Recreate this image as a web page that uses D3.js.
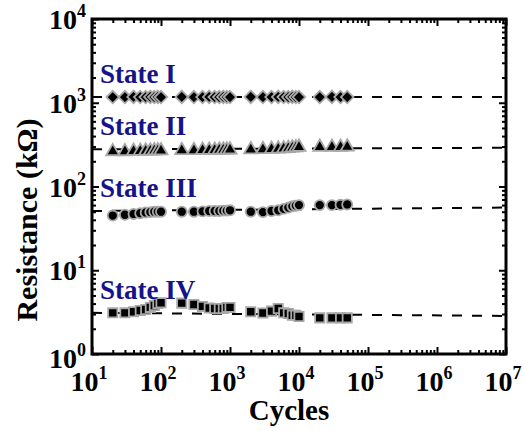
<!DOCTYPE html>
<html>
<head>
<meta charset="utf-8">
<script src="https://cdn.jsdelivr.net/npm/d3@7"></script>
<style>
  body { margin: 0; background: #fff; }
  svg { display: block; font-family: "Liberation Serif", "Times New Roman", serif; font-weight: bold; }
  .tick line { stroke: #000; stroke-width: 2px; }
  .domain { display: none; }
</style>
</head>
<body>
<svg width="524" height="431"></svg>
<script>
// cycle counts where each state was read
var cycles = [20, 30, 40, 50, 60, 70, 80, 90, 100,
              200, 300, 400, 500, 600, 700, 800, 900, 1000,
              2000, 3000, 4000, 5000, 6000, 7000, 8000, 9000, 10000,
              20000, 30000, 40000, 50000];

// resistance (kOhm) per state
var stateI = [1170, 1170, 1175, 1170, 1170, 1175, 1170, 1175, 1170,
              1175, 1170, 1170, 1175, 1170, 1170, 1175, 1170, 1170,
              1175, 1170, 1170, 1175, 1170, 1170, 1175, 1170, 1170,
              1170, 1175, 1170, 1170];
var stateII = [262, 262, 265, 265, 266, 266, 268, 268, 268,
               270, 270, 272, 272, 272, 274, 274, 274, 275,
               276, 278, 280, 282, 284, 286, 290, 292, 295,
               295, 296, 296, 297];
var stateIII = [45, 46, 47, 48, 49, 49.5, 50, 50, 50,
                50, 50, 50.5, 51, 51, 51, 51.5, 51.5, 52,
                50, 49.5, 51, 52, 54, 56, 58, 59, 60,
                60, 60, 60.5, 61];
var stateIV = [3.1, 3.1, 3.2, 3.3, 3.4, 3.6, 3.8, 4.0, 4.1,
               4.05, 3.9, 3.7, 3.55, 3.5, 3.5, 3.5, 3.6, 3.6,
               3.2, 3.08, 3.25, 3.5, 3.1, 3.05, 2.9, 2.9, 2.8,
               2.7, 2.7, 2.7, 2.7];

// dashed fit lines, value at the left and right edge
var fitI = [1170, 1170];
var fitII = [278, 290];
var fitIII = [51, 56];
var fitIV = [3.1, 2.85];

var stateNames = ["State I", "State II", "State III", "State IV"];
var xTickExp = [1, 2, 3, 4, 5, 6, 7];
var yTickExp = [0, 1, 2, 3, 4];

var svg = d3.select("svg"),
    margin = {top: 19, right: 18, bottom: 77, left: 92},
    width = +svg.attr("width") - margin.left - margin.right,
    height = +svg.attr("height") - margin.top - margin.bottom;

var x = d3.scaleLog().domain([1e1, 1e7]).range([0, width]);
var y = d3.scaleLog().domain([1e0, 1e4]).range([height, 0]);

var chart = svg.append("g")
    .attr("transform", "translate(" + margin.left + "," + margin.top + ")");

// minor and major ticks, all pointing inward
function isMajor(v) { return Math.abs(Math.log10(v) - Math.round(Math.log10(v))) < 1e-9; }
var xMinor = x.ticks(10).filter(function(v) { return !isMajor(v); }),
    xMajor = x.ticks(10).filter(isMajor),
    yMinor = y.ticks(10).filter(function(v) { return !isMajor(v); }),
    yMajor = y.ticks(10).filter(isMajor);

function addTicks(axis, vals, size, transform) {
  chart.append("g")
      .attr("transform", transform)
    .call(axis.tickValues(vals).tickSize(size).tickFormat(""));
}
addTicks(d3.axisBottom(x), xMinor, -4, "translate(0," + height + ")");
addTicks(d3.axisBottom(x), xMajor, -7, "translate(0," + height + ")");
addTicks(d3.axisTop(x), xMinor, -4, "translate(0,0)");
addTicks(d3.axisTop(x), xMajor, -7, "translate(0,0)");
addTicks(d3.axisLeft(y), yMinor, -4, "translate(0,0)");
addTicks(d3.axisLeft(y), yMajor, -7, "translate(0,0)");
addTicks(d3.axisRight(y), yMinor, -4, "translate(" + width + ",0)");
addTicks(d3.axisRight(y), yMajor, -7, "translate(" + width + ",0)");

// series
var series = [
  {name: stateNames[0], vals: stateI, fit: fitI, shape: d3.symbolDiamond2, size: 100},
  {name: stateNames[1], vals: stateII, fit: fitII, shape: d3.symbolTriangle, size: 75},
  {name: stateNames[2], vals: stateIII, fit: fitIII, shape: d3.symbolCircle, size: 80},
  {name: stateNames[3], vals: stateIV, fit: fitIV, shape: d3.symbolSquare, size: 85}
];

series.forEach(function(s) {
  // dashed line across the plot
  chart.append("line")
      .attr("x1", 0)
      .attr("x2", width)
      .attr("y1", y(s.fit[0]))
      .attr("y2", y(s.fit[1]))
      .attr("stroke", "#000")
      .attr("stroke-width", 2)
      .attr("stroke-dasharray", "10,10");

  chart.append("g").selectAll("path")
      .data(cycles)
    .enter().append("path")
      .attr("transform", function(d, i) { return "translate(" + x(d) + "," + y(s.vals[i]) + ")"; })
      .attr("d", d3.symbol().type(s.shape).size(s.size))
      .attr("fill", "#000")
      .attr("stroke", "#a8a8a8")
      .attr("stroke-width", 1.8);

  // state label, above the series
  chart.append("text")
      .attr("x", 8)
      .attr("y", y(s.fit[0]) - 14)
      .attr("fill", "#14148a")
      .style("font-size", "27px")
      .text(s.name);
});

// frame
chart.append("rect")
    .attr("width", width)
    .attr("height", height)
    .attr("fill", "none")
    .attr("stroke", "#000")
    .attr("stroke-width", 3);

// tick labels with superscript exponents
function powLabel(sel) {
  sel.style("font-size", "28px")
      .text("10")
    .append("tspan")
      .attr("dy", -12)
      .style("font-size", "18px")
      .text(function(d) { return d; });
}

chart.selectAll(".x-label")
    .data(xTickExp)
  .enter().append("text")
    .attr("class", "x-label")
    .attr("x", function(d) { return x(Math.pow(10, d)) - 3; })
    .attr("y", height + 37)
    .attr("text-anchor", "middle")
    .call(powLabel);

chart.selectAll(".y-label")
    .data(yTickExp)
  .enter().append("text")
    .attr("class", "y-label")
    .attr("x", -6)
    .attr("y", function(d) { return y(Math.pow(10, d)) + 10 + (d === 0 ? 4 : 0); })
    .attr("text-anchor", "end")
    .call(powLabel);

// axis titles
svg.append("text")
    .attr("x", 289)
    .attr("y", 420)
    .attr("text-anchor", "middle")
    .style("font-size", "29px")
    .text("Cycles");

svg.append("text")
    .attr("transform", "translate(37,220) rotate(-90)")
    .attr("text-anchor", "middle")
    .style("font-size", "30px")
    .text("Resistance (k\u03A9)");
</script>
</body>
</html>
